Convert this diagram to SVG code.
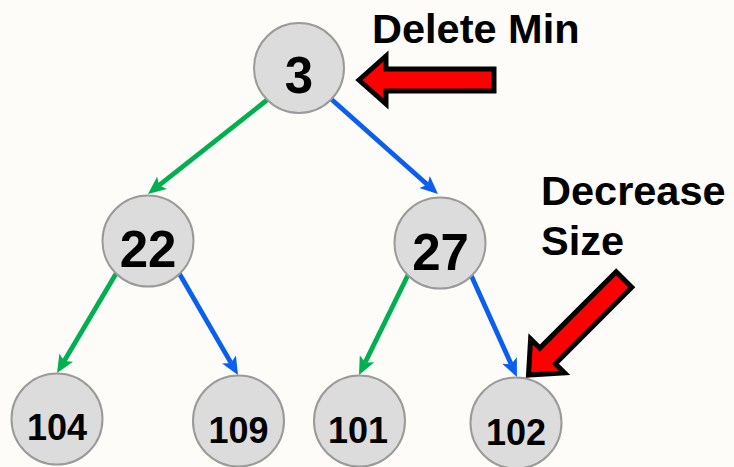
<svg xmlns="http://www.w3.org/2000/svg" width="734" height="467" viewBox="0 0 734 467">
  <style>
    .node circle { fill: #dcdcdc; stroke: #9a9a9a; stroke-width: 2; }
    .node text { font-family: "Liberation Sans", Arial, sans-serif; font-weight: bold; fill: #000; text-anchor: middle; }
    .big { font-size: 51px; }
    .small { font-size: 36px; }
    .edge { fill: none; stroke-width: 4.8; stroke-linecap: butt; }
    .green { stroke: #00b050; }
    .blue { stroke: #0a5ff0; }
    .label { font-family: "Liberation Sans", Arial, sans-serif; font-weight: bold; font-size: 41.5px; fill: #000; }
    .callout { fill: #ff0000; stroke: #000; stroke-width: 5; stroke-linejoin: miter; stroke-miterlimit: 10; }
  </style>
  <defs>
    <marker id="headGreen" markerUnits="userSpaceOnUse" markerWidth="18" markerHeight="16" refX="4" refY="8" orient="auto">
      <path d="M0,0 L18,8 L0,16 L4,8 z" fill="#00b050"/>
    </marker>
    <marker id="headBlue" markerUnits="userSpaceOnUse" markerWidth="18" markerHeight="16" refX="4" refY="8" orient="auto">
      <path d="M0,0 L18,8 L0,16 L4,8 z" fill="#0a5ff0"/>
    </marker>
    <!-- block arrow, tip at origin, pointing left -->
    <path id="blockArrow" d="M0,0 L27,-24 L27,-11 L135,-11 L135,11 L27,11 L27,24 z"/>
  </defs>

  <rect x="0" y="0" width="734" height="467" fill="#fdfcf9"/>

  <g id="edges">
    <line class="edge green" x1="267" y1="100" x2="159" y2="185.3" marker-end="url(#headGreen)"/>
    <line class="edge blue" x1="330" y1="98" x2="427.5" y2="184.7" marker-end="url(#headBlue)"/>
    <line class="edge green" x1="117" y1="272" x2="64.2" y2="361" marker-end="url(#headGreen)"/>
    <line class="edge blue" x1="179" y1="273" x2="231" y2="362.9" marker-end="url(#headBlue)"/>
    <line class="edge green" x1="408" y1="275" x2="365.2" y2="362.4" marker-end="url(#headGreen)"/>
    <line class="edge blue" x1="471" y1="275" x2="511.2" y2="364.2" marker-end="url(#headBlue)"/>
  </g>

  <g id="node-3" class="node">
    <circle cx="299" cy="68" r="45"/>
    <text class="big" x="299" y="93">3</text>
  </g>
  <g id="node-22" class="node">
    <circle cx="148" cy="241" r="45.5"/>
    <text class="big" x="148" y="267">22</text>
  </g>
  <g id="node-27" class="node">
    <circle cx="440" cy="243" r="45.5"/>
    <text class="big" x="440.5" y="270">27</text>
  </g>
  <g id="node-104" class="node">
    <circle cx="57" cy="419" r="45.5"/>
    <text class="small" x="57" y="440">104</text>
  </g>
  <g id="node-109" class="node">
    <circle cx="238.5" cy="421" r="45.5"/>
    <text class="small" x="238.5" y="443">109</text>
  </g>
  <g id="node-101" class="node">
    <circle cx="359.5" cy="421" r="45.5"/>
    <text class="small" x="358" y="443">101</text>
  </g>
  <g id="node-102" class="node">
    <circle cx="516" cy="423" r="45.5"/>
    <text class="small" x="516" y="445">102</text>
  </g>

  <g id="delete-min">
    <use href="#blockArrow" class="callout" transform="translate(359,80)"/>
    <text class="label" x="372" y="43">Delete Min</text>
  </g>

  <g id="decrease-size">
    <use href="#blockArrow" class="callout" transform="translate(528.5,375) rotate(-45)"/>
    <text class="label" x="541" y="205">Decrease</text>
    <text class="label" x="541" y="255">Size</text>
  </g>
</svg>
